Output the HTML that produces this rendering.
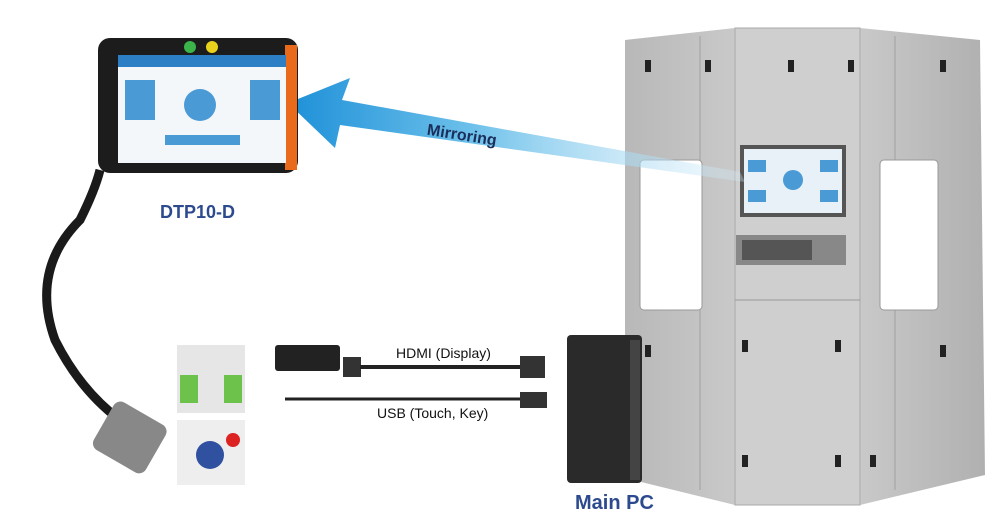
<!DOCTYPE html>
<html><head><style>
html,body{margin:0;padding:0;background:#fff;}
svg{display:block;}
</style></head><body>
<svg width="1000" height="529" viewBox="0 0 1000 529" xmlns="http://www.w3.org/2000/svg">
<defs>
<linearGradient id="ar" x1="1" y1="0" x2="0" y2="0">
<stop offset="0" stop-color="#d8eefa" stop-opacity="0.3"/>
<stop offset="0.6" stop-color="#6cc0ea"/>
<stop offset="1" stop-color="#1e90d8"/>
</linearGradient>
<linearGradient id="cab" x1="0" y1="0" x2="1" y2="0">
<stop offset="0" stop-color="#b8b8b8"/><stop offset="0.5" stop-color="#d4d4d4"/><stop offset="1" stop-color="#b0b0b0"/>
</linearGradient>
</defs>
<polygon points="625,40 735,28 860,28 980,40 985,475 860,505 735,505 625,478" fill="url(#cab)"/>
<rect x="735" y="28" width="125" height="477" fill="#cfcfcf" stroke="#aaa"/>
<line x1="735" y1="300" x2="860" y2="300" stroke="#999"/>
<line x1="700" y1="36" x2="700" y2="490" stroke="#a0a0a0"/>
<line x1="895" y1="36" x2="895" y2="490" stroke="#a0a0a0"/>
<rect x="640" y="160" width="62" height="150" rx="4" fill="#fff" stroke="#999"/>
<rect x="880" y="160" width="58" height="150" rx="4" fill="#fff" stroke="#999"/>
<rect x="740" y="145" width="106" height="72" fill="#555"/>
<rect x="744" y="149" width="98" height="64" fill="#e8f1f8"/>
<g fill="#4a9ad6"><rect x="748" y="160" width="18" height="12"/><rect x="820" y="160" width="18" height="12"/><rect x="748" y="190" width="18" height="12"/><rect x="820" y="190" width="18" height="12"/><circle cx="793" cy="180" r="10"/></g>
<rect x="736" y="235" width="110" height="30" fill="#888"/>
<rect x="742" y="240" width="70" height="20" fill="#555"/>
<g fill="#222"><rect x="645" y="60" width="6" height="12"/><rect x="705" y="60" width="6" height="12"/><rect x="788" y="60" width="6" height="12"/><rect x="848" y="60" width="6" height="12"/><rect x="940" y="60" width="6" height="12"/><rect x="645" y="345" width="6" height="12"/><rect x="742" y="340" width="6" height="12"/><rect x="835" y="340" width="6" height="12"/><rect x="940" y="345" width="6" height="12"/><rect x="742" y="455" width="6" height="12"/><rect x="835" y="455" width="6" height="12"/><rect x="870" y="455" width="6" height="12"/></g>
<rect x="567" y="335" width="75" height="148" rx="4" fill="#2a2a2a"/>
<rect x="630" y="340" width="10" height="140" fill="#444"/>
<text x="575" y="509" font-family="Liberation Sans,sans-serif" font-weight="bold" font-size="20" fill="#2d4a8f">Main PC</text>
<polygon points="740,172 745,182 340,125 335,148 288,103 350,78 342,100" fill="url(#ar)"/>
<text x="426" y="140" font-family="Liberation Sans,sans-serif" font-weight="bold" font-size="16" fill="#1b2e5a" transform="rotate(9 460 140)">Mirroring</text>
<rect x="98" y="38" width="200" height="135" rx="12" fill="#1c1c1c"/>
<rect x="285" y="45" width="12" height="125" fill="#e86a1a"/>
<rect x="118" y="55" width="168" height="108" fill="#f4f7fa"/>
<rect x="118" y="55" width="168" height="12" fill="#2c7fc4"/>
<g fill="#4a9ad6"><rect x="125" y="80" width="30" height="40"/><rect x="250" y="80" width="30" height="40"/><circle cx="200" cy="105" r="16"/><rect x="165" y="135" width="75" height="10"/></g>
<circle cx="190" cy="47" r="6" fill="#3bb54a"/><circle cx="212" cy="47" r="6" fill="#e8d21e"/>
<path d="M100,170 Q95,190 80,220 Q30,270 55,340 Q80,390 120,420" stroke="#1a1a1a" stroke-width="9" fill="none"/>
<rect x="100" y="410" width="60" height="55" rx="8" fill="#888" transform="rotate(30 130 437)"/>
<text x="160" y="218" font-family="Liberation Sans,sans-serif" font-weight="bold" font-size="18" fill="#2d4a8f">DTP10-D</text>
<rect x="177" y="345" width="68" height="68" fill="#e6e6e6"/>
<rect x="180" y="375" width="18" height="28" fill="#6cc24a"/><rect x="224" y="375" width="18" height="28" fill="#6cc24a"/>
<rect x="177" y="420" width="68" height="65" fill="#eee"/>
<circle cx="210" cy="455" r="14" fill="#3050a0"/>
<circle cx="233" cy="440" r="7" fill="#d22"/>
<rect x="275" y="345" width="65" height="26" rx="3" fill="#222"/>
<rect x="343" y="357" width="18" height="20" fill="#333"/>
<line x1="360" y1="367" x2="520" y2="367" stroke="#222" stroke-width="4"/>
<rect x="520" y="356" width="25" height="22" fill="#333"/>
<line x1="285" y1="399" x2="520" y2="399" stroke="#222" stroke-width="3"/>
<rect x="520" y="392" width="27" height="16" fill="#333"/>
<text x="396" y="358" font-family="Liberation Sans,sans-serif" font-size="14" fill="#111">HDMI (Display)</text>
<text x="377" y="418" font-family="Liberation Sans,sans-serif" font-size="14" fill="#111">USB (Touch, Key)</text>
</svg>
</body></html>
